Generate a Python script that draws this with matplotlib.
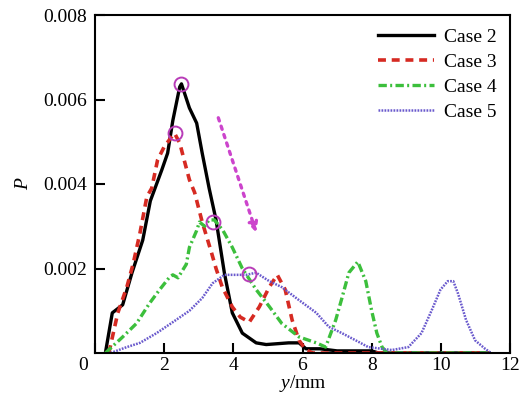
import matplotlib
matplotlib.use("Agg")
import matplotlib.pyplot as plt
import matplotlib.transforms as mtransforms

plt.rcParams['font.family'] = ['Liberation Serif', 'DejaVu Serif']
plt.rcParams['mathtext.fontset'] = 'custom'
plt.rcParams['mathtext.it'] = 'Liberation Serif:italic'
plt.rcParams['mathtext.rm'] = 'Liberation Serif'

# Case 2 (black solid)
case2_x = [0.3, 0.5, 0.8, 1.07, 1.38, 1.6, 1.93, 2.1, 2.25, 2.45, 2.5, 2.73, 2.94, 3.1, 3.3,
           3.5, 3.74, 3.97, 4.26, 4.66, 4.95, 5.6, 5.9, 6.1, 6.5, 7.0, 8.0, 8.2, 11.4]
case2_y = [0.0, 0.00095, 0.00114, 0.0019, 0.00267, 0.0036, 0.00433, 0.00473, 0.0055, 0.0063, 0.00637,
           0.0058, 0.00544, 0.00473, 0.0039, 0.00315, 0.0019, 0.00095, 0.00047, 0.00024, 0.0002,
           0.00024, 0.00024, 0.0001, 0.0001, 0.00005, 0.00005, 0.0, 0.0]

# Case 3 (red dashed)
case3_x = [0.4, 0.66, 0.92, 1.1, 1.3, 1.5, 1.64, 1.81, 2.0, 2.2, 2.3, 2.45, 2.6, 2.73, 2.88,
           3.1, 3.37, 3.5, 3.68, 3.97, 4.2, 4.46, 4.75, 5.04, 5.27, 5.5, 5.7, 5.9, 6.1, 6.3, 11.4]
case3_y = [0.0, 0.00095, 0.00156, 0.0021, 0.00284, 0.0037, 0.0039, 0.00457, 0.00488, 0.0051, 0.0052,
           0.00497, 0.0045, 0.0041, 0.0038, 0.0031, 0.00237, 0.0020, 0.00156, 0.00109, 0.00085,
           0.00073, 0.00109, 0.00156, 0.00185, 0.0015, 0.00078, 0.0003, 0.00007, 0.0, 0.0]

# Case 4 (green dash-dot)
case4_x = [0.3, 0.8, 1.2, 1.58, 1.87, 2.16, 2.25, 2.4, 2.64, 2.73, 2.94, 3.02, 3.17, 3.3, 3.45,
           3.7, 3.97, 4.26, 4.66, 5.04, 5.4, 5.9, 6.4, 6.67, 6.96, 7.14, 7.34, 7.6, 7.83, 8.0,
           8.15, 8.3, 8.45, 11.4]
case4_y = [0.0, 0.00038, 0.0007, 0.00118, 0.0015, 0.0018, 0.00185, 0.00178, 0.0021, 0.0025, 0.0029,
           0.0031, 0.0030, 0.00315, 0.00315, 0.0029, 0.0025, 0.0020, 0.0015, 0.0011, 0.0007,
           0.00038, 0.00024, 0.00014, 0.00078, 0.0013, 0.0019, 0.00216, 0.0017, 0.0010,
           0.00047, 0.00014, 0.0, 0.0]

# Case 5 (blue dotted)
case5_x = [0.45, 0.92, 1.3, 1.78, 2.25, 2.73, 3.1, 3.4, 3.74, 4.37, 4.66, 5.04, 5.4, 5.9, 6.4,
           6.76, 7.14, 7.63, 7.9, 8.58, 9.06, 9.44, 9.73, 9.99, 10.2, 10.36, 10.5, 10.73, 10.99,
           11.28, 11.45]
case5_y = [0.0, 0.00014, 0.00024, 0.00047, 0.00073, 0.0010, 0.0013, 0.00165, 0.00185, 0.00185,
           0.0019, 0.0017, 0.00156, 0.00125, 0.00095, 0.00062, 0.00047, 0.00026, 0.00014, 0.00007,
           0.00014, 0.00047, 0.0010, 0.0015, 0.0017, 0.0017, 0.0014, 0.00078, 0.0003, 0.0001, 0.0]

# peak markers
peak_x = [2.5, 2.3, 3.4, 4.45]
peak_y = [0.00637, 0.0052, 0.0031, 0.00187]

arrow_start = (3.54, 0.00563)
arrow_end = (4.69, 0.00279)

xticks = [0, 2, 4, 6, 8, 10, 12]
xticklabels = ['0', '2', '4', '6', '8', '10', '12']
yticks = [0.002, 0.004, 0.006, 0.008]
yticklabels = ['0.002', '0.004', '0.006', '0.008']

fig = plt.figure(figsize=(5.23, 3.94), dpi=100)
ax = fig.add_axes([95/523, 1 - 353/394, 415/523, 338/394])

ax.plot(case2_x, case2_y, color='black', lw=2.4, ls='-', label='Case 2')
ax.plot(case3_x, case3_y, color='#d62a22', lw=2.6, ls=(0, (2.2, 1.6)), label='Case 3')
ax.plot(case4_x, case4_y, color='#3cbf3c', lw=2.4, ls=(0, (2.5, 1.0, 0.6, 1.0)), label='Case 4')
ax.plot(case5_x, case5_y, color='#6a5acd', lw=1.8, ls=(0, (0.7, 0.5)), label='Case 5')

ax.plot(peak_x, peak_y, 'o', ms=10, mfc='none', mec='#b83cb8', mew=1.4)

ax.annotate('', xy=arrow_end, xytext=arrow_start,
            arrowprops=dict(arrowstyle='-|>', color='#cc44cc', lw=2.4, ls=':',
                            mutation_scale=14))

ax.set_xlim(0, 12)
ax.set_ylim(0, 0.008)
ax.set_xticks(xticks)
ax.set_xticklabels(xticklabels)
ax.set_yticks(yticks)
ax.set_yticklabels(yticklabels)
ax.tick_params(direction='in', length=7, width=1.5, labelsize=14)
ax.tick_params(axis='y', pad=6)
ax.tick_params(axis='x', pad=3)
for s in ax.spines.values():
    s.set_linewidth(1.5)

# shift the origin label "0" to the left like the reference
offset = mtransforms.ScaledTranslation(-12/100, 0, fig.dpi_scale_trans)
lbl0 = ax.get_xticklabels()[0]
lbl0.set_transform(lbl0.get_transform() + offset)

fig.text(303/523, 1 - 384/394, r'$\mathit{y}$/mm', fontsize=14, ha='center', va='center')
ax.set_ylabel('P', fontsize=14, style='italic', labelpad=8)

ax.legend(loc='upper right', frameon=False, fontsize=14, handlelength=2.9,
          handletextpad=0.5, labelspacing=0.38, borderaxespad=0.3)

fig.savefig('out.png', dpi=100)
